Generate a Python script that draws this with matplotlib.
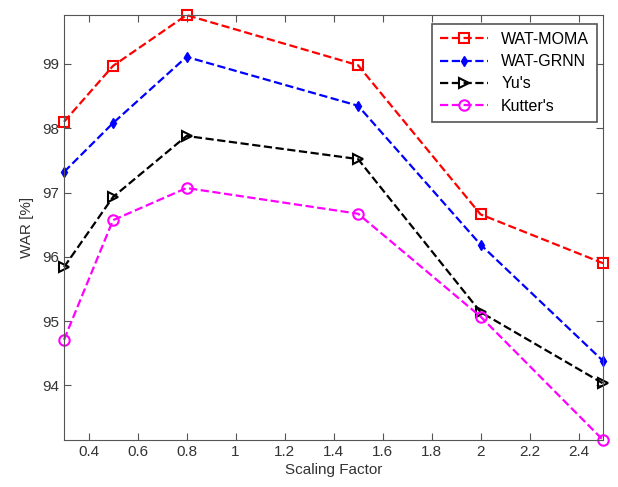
import numpy as np
import matplotlib
matplotlib.use("Agg")
import matplotlib.pyplot as plt
from matplotlib.ticker import FixedLocator, FuncFormatter

plt.rcParams['font.family'] = ['Liberation Sans', 'DejaVu Sans']

scale = [0.3, 0.5, 0.8, 1.5, 2.0, 2.5]
wat_moma = [98.10, 98.97, 99.76, 98.98, 96.66, 95.90]
wat_grnn = [97.32, 98.08, 99.11, 98.35, 96.19, 94.38]
yus = [95.84, 96.93, 97.88, 97.52, 95.14, 94.03]
kutters = [94.71, 96.57, 97.07, 96.67, 95.07, 93.15]

fig = plt.figure(figsize=(6.18, 4.87), dpi=100)
ax = fig.add_axes([0.1036, 0.0965, 0.8722, 0.8725])

ax.plot(scale, wat_moma, '--s', color='red', lw=1.6, ms=7.5, mfc='none', mew=1.5,
        label='WAT-MOMA', clip_on=False)
ax.plot(scale, wat_grnn, '--d', color='blue', lw=1.6, ms=5.5, mfc='blue',
        label='WAT-GRNN', clip_on=False)
ax.plot(scale, yus, '-->', color='black', lw=1.6, ms=7.5, mfc='none', mew=1.5,
        label="Yu's", clip_on=False)
ax.plot(scale, kutters, '--o', color='magenta', lw=1.6, ms=7.5, mfc='none', mew=1.5,
        label="Kutter's", clip_on=False)

ax.set_xlim(0.3, 2.5)
ax.set_ylim(93.15, 99.76)
ax.xaxis.set_major_locator(FixedLocator(np.arange(0.4, 2.41, 0.2)))
ax.xaxis.set_major_formatter(FuncFormatter(lambda v, p: ('%.1f' % v).rstrip('0').rstrip('.')))
ax.set_yticks([94, 95, 96, 97, 98, 99])

for s in ax.spines.values():
    s.set_color('#555555')
ax.tick_params(direction='in', top=True, right=True, length=5, colors='#555555',
               labelcolor='#333333', labelsize=11)

ax.set_xlabel('Scaling Factor', fontsize=11, color='#333333', labelpad=3)
ax.set_ylabel('WAR [%]', fontsize=11, color='#333333', labelpad=6)

leg = ax.legend(loc='upper right', bbox_to_anchor=(0.989, 0.979), borderaxespad=0,
                fontsize=11.5, fancybox=False, framealpha=1, edgecolor='#555555',
                handlelength=3, borderpad=0.5, labelspacing=0.45)
leg.get_frame().set_linewidth(1.2)

fig.savefig('out.png', dpi=100)
